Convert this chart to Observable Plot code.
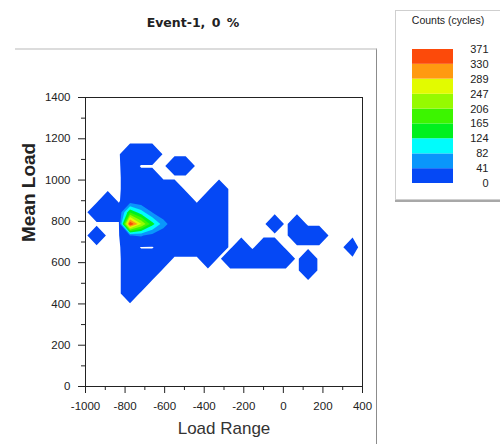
<!DOCTYPE html>
<html><head><meta charset="utf-8">
<script src="https://cdn.jsdelivr.net/npm/d3@7"></script>
<script src="https://cdn.jsdelivr.net/npm/@observablehq/plot@0.6"></script>
<style>
html,body{margin:0;padding:0;background:#fff;width:500px;height:444px;overflow:hidden;}
body{position:relative;font-family:"Liberation Sans",Arial,sans-serif;}
#title{position:absolute;left:0;width:386px;top:15px;text-align:center;font:bold 12.5px "DejaVu Sans",Verdana,sans-serif;color:#222;word-spacing:2px;}
#panel{position:absolute;left:15px;top:48px;width:361px;height:420px;border-top:2px solid #dcdcdc;border-right:1px solid #8c8c8c;}
#chart{position:absolute;left:0;top:0;}
#legendbox{position:absolute;left:395px;top:10px;width:120px;height:188px;border:1px solid #cfcfcf;box-shadow:0 2px 0 #a8a8a8;background:#fff;}
#legendtitle{position:absolute;left:396px;width:104px;top:14px;text-align:center;font-size:10.5px;color:#222;}
#legend{position:absolute;left:395px;top:0;}
</style></head>
<body>
<div id="title">Event-1, 0 %</div>
<div id="panel"></div>
<div id="chart"></div>
<div id="legendbox"></div>
<div id="legendtitle">Counts (cycles)</div>
<div id="legend"></div>
<script>
// Bin centres of the rainflow matrix
const loadRange = [-1000, -943.75, -887.5, -831.25, -775, -718.75, -662.5, -606.25, -550, -493.75,
  -437.5, -381.25, -325, -268.75, -212.5, -156.25, -100, -43.75, 12.5, 68.75, 125, 181.25, 237.5, 293.75, 350];
const meanLoadBins = [0, 56.25, 112.5, 168.75, 225, 281.25, 337.5, 393.75, 450, 506.25, 562.5, 618.75,
  675, 731.25, 787.5, 843.75, 900, 956.25, 1012.5, 1068.75, 1125, 1181.25, 1237.5, 1293.75, 1350];
// Mean-load rows that hold counts (others are empty), top to bottom
const countRowMeanLoad = [1181.25, 1125, 1068.75, 1012.5, 956.25, 900, 843.75, 787.5, 731.25, 675, 618.75, 562.5, 506.25, 450, 393.75];
const countRows = [
  [0,0,0,0,0,0,0,0,0,0,0,0,0,0,0,0,0,0,0,0,0,0,0,0,0],
  [0,0,0,0,12,12,12,0,0,0,0,0,0,0,0,0,0,0,0,0,0,0,0,0,0],
  [0,0,0,0,8,0,0,0,6,6,0,0,0,0,0,0,0,0,0,0,0,0,0,0,0],
  [0,0,0,0,6,6,6,0,0,0,0,0,0,0,0,0,0,0,0,0,0,0,0,0,0],
  [0,0,0,0,6,6,6,6,6,0,0,0,6,0,0,0,0,0,0,0,0,0,0,0,0],
  [0,0,6,0,10,8,6,6,6,6,0,6,6,0,0,0,0,0,0,0,0,0,0,0,0],
  [0,6,6,6,160,100,40,10,6,6,6,6,6,0,0,0,0,0,0,0,0,0,0,0,0],
  [0,0,0,0,371,250,140,60,10,6,6,6,6,0,0,0,0,6,0,6,0,0,0,0,0],
  [0,6,0,0,40,45,25,10,6,6,6,6,6,0,0,0,0,0,0,6,6,6,0,0,0],
  [0,0,0,0,8,0,0,8,6,6,6,6,6,0,6,0,6,6,0,0,0,0,0,0,6],
  [0,0,0,0,6,8,8,6,0,0,0,6,0,6,6,6,6,6,6,0,6,0,0,0,0],
  [0,0,0,0,6,6,6,0,0,0,0,0,0,0,0,0,0,0,0,0,6,0,0,0,0],
  [0,0,0,0,6,6,0,0,0,0,0,0,0,0,0,0,0,0,0,0,0,0,0,0,0],
  [0,0,0,0,6,0,0,0,0,0,0,0,0,0,0,0,0,0,0,0,0,0,0,0,0],
  [0,0,0,0,0,0,0,0,0,0,0,0,0,0,0,0,0,0,0,0,0,0,0,0,0]
];
// Legend levels and colours (low to high)
const legendTicks = [0, 41, 82, 124, 165, 206, 247, 289, 330, 371];
const bandColors = ["#0548f5", "#0a96fb", "#00fcfc", "#00f01e", "#3cf500", "#96fa00", "#e2fb00", "#ff9a10", "#fc4a0a"];
const xTicks = [-1000, -800, -600, -400, -200, 0, 200, 400];
const xMinorTicks = [-900, -700, -500, -300, -100, 100, 300];
const yTicks = [0, 200, 400, 600, 800, 1000, 1200, 1400];
const yMinorTicks = [100, 300, 500, 700, 900, 1100, 1300];

// Build the grid
const nx = loadRange.length, ny = meanLoadBins.length;
const step = loadRange[1] - loadRange[0];
const grid = new Array(nx * ny).fill(0);
countRowMeanLoad.forEach((m, r) => {
  const j = meanLoadBins.indexOf(m);
  countRows[r].forEach((v, i) => { grid[j * nx + i] = v; });
});
const thresholds = [1, ...legendTicks.slice(1, -1)];
const colorScale = {type: "threshold", domain: legendTicks.slice(1, -1), range: bandColors};
const fmt = d => String(d);

const chart = Plot.plot({
  width: 380, height: 444,
  marginLeft: 85, marginRight: 18, marginTop: 97, marginBottom: 58,
  style: {fontFamily: "'Liberation Sans', Arial, sans-serif", fontSize: "11.5px", color: "#222", background: "transparent"},
  x: {domain: [-1000, 400]},
  y: {domain: [0, 1400]},
  color: colorScale,
  marks: [
    Plot.contour(grid, {
      width: nx, height: ny,
      x1: loadRange[0] - step / 2, x2: loadRange[nx - 1] + step / 2,
      y1: meanLoadBins[0] - step / 2, y2: meanLoadBins[ny - 1] + step / 2,
      fill: Plot.identity, thresholds, clip: true
    }),
    Plot.frame({stroke: "#222"}),
    Plot.axisX(xMinorTicks, {tickSize: 4, tickFormat: () => "", label: null}),
    Plot.axisX(xTicks, {tickSize: 7, tickPadding: 8, tickFormat: fmt, label: null}),
    Plot.axisY(yMinorTicks, {tickSize: 4, tickFormat: () => "", label: null}),
    Plot.axisY(yTicks, {tickSize: 7, tickPadding: 8, tickFormat: fmt, label: null}),
    Plot.text(["Load Range"], {text: d => d, frameAnchor: "bottom", dy: 47, fontSize: 17, fill: "#333"}),
    Plot.text(["Mean Load"], {text: d => d, frameAnchor: "left", rotate: -90, dx: -57, fontSize: 19, fontWeight: "bold", fill: "#222"})
  ]
});
document.getElementById("chart").append(chart);

const bands = legendTicks.slice(0, -1).map((lo, i) => ({lo, hi: legendTicks[i + 1]}));
const legend = Plot.plot({
  width: 105, height: 200,
  marginLeft: 17, marginRight: 47, marginTop: 49, marginBottom: 17,
  style: {fontFamily: "'Liberation Sans', Arial, sans-serif", fontSize: "11px", color: "#222", background: "transparent"},
  x: {axis: null},
  y: {domain: [0, 371]},
  color: colorScale,
  marks: [
    Plot.rect(bands, {y1: "lo", y2: "hi", fill: "lo"}),
    Plot.axisY(legendTicks, {anchor: "right", tickSize: 0, tickPadding: 35, textAnchor: "end", tickFormat: fmt, label: null})
  ]
});
document.getElementById("legend").append(legend);
</script>
</body></html>
